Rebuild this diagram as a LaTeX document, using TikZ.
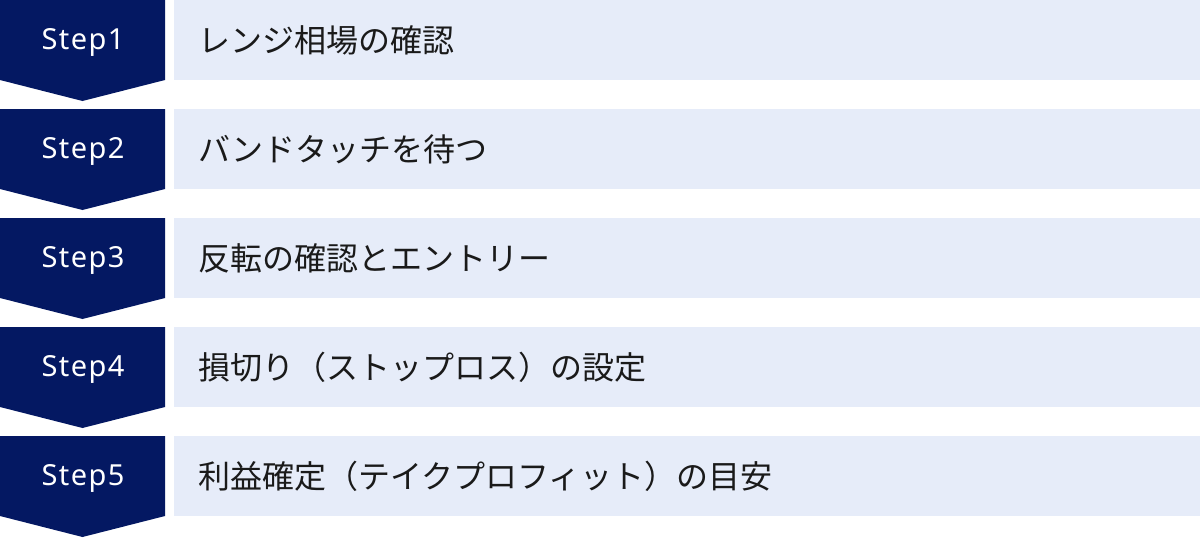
\documentclass[tikz,border=0pt]{standalone}
\usepackage{fontspec}
\newfontfamily\jpfont{Noto Sans CJK JP}
\newfontfamily\stepfont[LetterSpace=5]{Noto Sans}
\definecolor{navy}{HTML}{041862}
\definecolor{lightbox}{HTML}{E6ECF9}
\definecolor{txt}{HTML}{1A1A1A}
\tikzset{
  stepshape/.style={fill=navy, draw=none},
  stepbox/.style={fill=lightbox, draw=none},
  steplabel/.style={text=white, font=\stepfont\fontsize{29}{34}\selectfont, inner sep=0pt, anchor=center},
  steptext/.style={text=txt, font=\jpfont\fontsize{32}{38}\selectfont, inner sep=0pt, anchor=west}
}
\begin{document}
\begin{tikzpicture}[x=1pt,y=-1pt]
\useasboundingbox (0,0) rectangle (1200,538);
\foreach \i/\t in {0/{レンジ相場の確認},1/{バンドタッチを待つ},2/{反転の確認とエントリー},3/{損切り（ストップロス）の設定},4/{利益確定（テイクプロフィット）の目安}}{
  \pgfmathsetmacro{\yt}{109*\i}
  \pgfmathtruncatemacro{\n}{\i+1}
  \fill[stepshape] (0,\yt) -- (165,\yt) -- (165,\yt+80) -- (82.5,\yt+101) -- (0,\yt+80) -- cycle;
  \node[stepbox, minimum width=1026pt, minimum height=80pt, inner sep=0pt, anchor=north west] (box\n) at (174,\yt) {};
  \node[steplabel] (lab\n) at (83,\yt+42) {Step\n};
  \node[steptext] (txt\n) at (198,\yt+40) {\t};
}
\end{tikzpicture}
\end{document}
